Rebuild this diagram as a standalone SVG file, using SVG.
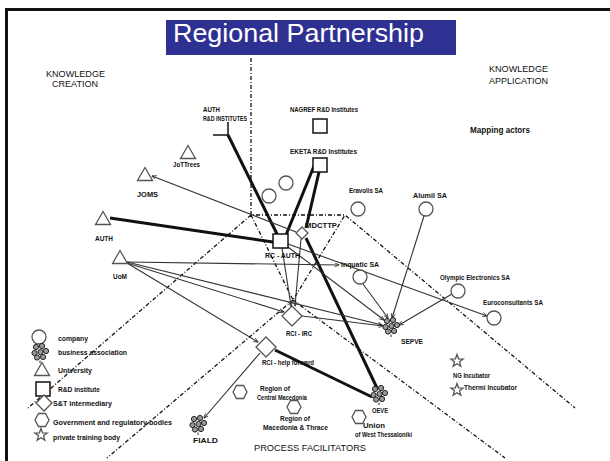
<svg xmlns="http://www.w3.org/2000/svg" xmlns:xlink="http://www.w3.org/1999/xlink" width="610" height="461" viewBox="0 0 610 461">
<style>
.lb{font-family:"Liberation Sans",Arial,sans-serif;font-weight:bold;font-size:6.5px;fill:#111}
.hd{font-family:"Liberation Sans",Arial,sans-serif;font-size:9px;fill:#111}
.lg{font-family:"Liberation Sans",Arial,sans-serif;font-weight:bold;font-size:7px;fill:#111}
.dash{stroke:#111;stroke-width:1.3;fill:none;stroke-dasharray:4 2 1 2}
.thin{stroke:#333;stroke-width:1.1;fill:none;marker-end:url(#arr)}
.thick{stroke:#111;stroke-width:3;fill:none}
.shp{fill:#fff;stroke:#555;stroke-width:1.3}
.sqr{fill:#fff;stroke:#111;stroke-width:1.5}
</style>
<defs>
<marker id="arr" viewBox="0 0 10 10" refX="9" refY="5" markerWidth="5" markerHeight="5" orient="auto" markerUnits="userSpaceOnUse">
<path d="M0 1L10 5L0 9" fill="none" stroke="#333" stroke-width="1.6"/>
</marker>
<path id="tri" d="M0 -6.5L-7.5 6.5H7.5Z"/>
<circle id="circ" r="7"/>
<path id="dia" d="M0 -10L10 0L0 10L-10 0Z"/>
<path id="hex" d="M-7 0L-3.5 -6.5H3.5L7 0L3.5 6.5H-3.5Z"/>
<path id="star" d="M0,-6.5 L1.59,-2.18 L6.18,-2.01 L2.57,0.83 L3.82,5.26 L0,2.7 L-3.82,5.26 L-2.57,0.83 L-6.18,-2.01 L-1.59,-2.18 Z"/>
<g id="ba" fill="#9a9a9a" stroke="#222" stroke-width="1">
<circle cx="-4" cy="-5" r="2.6"/><circle cx="2" cy="-6" r="2.6"/><circle cx="6" cy="-1" r="2.6"/><circle cx="-5.5" cy="1" r="2.6"/><circle cx="0.5" cy="0" r="2.6"/><circle cx="3" cy="5" r="2.6"/><circle cx="-3" cy="5.5" r="2.6"/><path d="M0 8.5v2.5" fill="none"/>
</g>
</defs>
<rect width="610" height="461" fill="#fff"/>
<g id="frame">
<path d="M5 9.5H610M6.5 8V461" stroke="#111" stroke-width="3" fill="none"/>
</g>
<g id="title">
<rect x="166" y="20" width="290" height="35" fill="#2e3192"/>
<text x="173" y="42" font-family="Liberation Sans,Arial,sans-serif" font-size="25" fill="#fff" textLength="251" lengthAdjust="spacingAndGlyphs">Regional Partnership</text>
</g>
<g id="connectors">
<path class="dash" d="M251 58V215H345L575 408M251 215L28 408M251 215L293 300L345 215M293 300L107 458M293 300L505 458"/>
<path d="M228 122V135H213" stroke="#111" stroke-width="1.5" fill="none"/>
<path class="thick" d="M110 218L273 242"/>
<path class="thick" d="M228 135L277 234"/>
<path class="thick" d="M314 166L286 235"/>
<path class="thick" d="M319 172L306 228"/>
<path class="thick" d="M306 238L377 388"/>
<path class="thick" d="M275 350L372 397"/>
<path class="thin" d="M296 232L152 176"/>
<path class="thin" d="M127 262L339 265"/>
<path class="thin" d="M127 262L382 325"/>
<path class="thin" d="M127 263L284 312"/>
<path class="thin" d="M127 263L258 342"/>
<path class="thin" d="M260 353L204 418"/>
<path class="thin" d="M288 244L487 316"/>
<path class="thin" d="M288 247L384 320"/>
<path class="thin" d="M282 248L291 306"/>
<path class="thin" d="M301 239L295 306"/>
<path class="thin" d="M302 316L383 326"/>
<path class="thin" d="M424 216L392 318"/>
<path class="thin" d="M452 294L399 325"/>
<path class="thin" d="M363 284L388 318"/>
</g>
<g id="headings">
<text class="hd" x="46" y="77" textLength="59" lengthAdjust="spacingAndGlyphs">KNOWLEDGE</text>
<text class="hd" x="52" y="87" textLength="46" lengthAdjust="spacingAndGlyphs">CREATION</text>
<text class="hd" x="489" y="72" textLength="59" lengthAdjust="spacingAndGlyphs">KNOWLEDGE</text>
<text class="hd" x="489" y="84" textLength="59" lengthAdjust="spacingAndGlyphs">APPLICATION</text>
<text class="hd" x="470" y="133" font-weight="bold" textLength="60" lengthAdjust="spacingAndGlyphs">Mapping actors</text>
<text class="hd" x="254" y="451" font-size="10" textLength="112" lengthAdjust="spacingAndGlyphs">PROCESS FACILITATORS</text>
</g>
<g id="auth-rd">
<text class="lb" x="203" y="112" textLength="17" lengthAdjust="spacingAndGlyphs">AUTH</text>
<text class="lb" x="203" y="121" textLength="44" lengthAdjust="spacingAndGlyphs">R&amp;D INSTITUTES</text>
</g>
<g id="nagref">
<rect class="sqr" x="313" y="119" width="14" height="14"/>
<text class="lb" x="290" y="112" textLength="68" lengthAdjust="spacingAndGlyphs">NAGREF R&amp;D Institutes</text>
</g>
<g id="eketa">
<rect class="sqr" x="313" y="158" width="14" height="14"/>
<text class="lb" x="290" y="154" textLength="67" lengthAdjust="spacingAndGlyphs">EKETA R&amp;D Institutes</text>
</g>
<g id="rc-auth">
<rect class="sqr" x="273" y="234" width="15" height="14"/>
<text class="lb" x="265" y="258" textLength="35" lengthAdjust="spacingAndGlyphs">RC - AUTH</text>
</g>
<g id="jottrees">
<use href="#tri" x="188" y="152" class="shp"/>
<text class="lb" x="173" y="167" textLength="27" lengthAdjust="spacingAndGlyphs">JoTTrees</text>
</g>
<g id="joms">
<use href="#tri" x="145" y="174" class="shp"/>
<text class="lb" x="137" y="197" textLength="21" lengthAdjust="spacingAndGlyphs">JOMS</text>
</g>
<g id="auth">
<use href="#tri" x="103" y="218" class="shp"/>
<text class="lb" x="95" y="241" textLength="18" lengthAdjust="spacingAndGlyphs">AUTH</text>
</g>
<g id="uom">
<use href="#tri" x="120" y="257" class="shp"/>
<text class="lb" x="113" y="279" textLength="14" lengthAdjust="spacingAndGlyphs">UoM</text>
</g>
<g id="companies-a">
<use href="#circ" x="286" y="183" class="shp"/>
<use href="#circ" x="269" y="196" class="shp"/>
</g>
<g id="mdcttp">
<path class="shp" d="M302 227L308 233L302 239L296 233Z"/>
<text class="lb" x="305" y="228" textLength="32" lengthAdjust="spacingAndGlyphs">MDCTTP</text>
</g>
<g id="eravolis">
<use href="#circ" x="358" y="209" class="shp"/>
<text class="lb" x="349" y="193" textLength="34" lengthAdjust="spacingAndGlyphs">Eravolis SA</text>
</g>
<g id="alumil">
<use href="#circ" x="426" y="209" class="shp"/>
<text class="lb" x="413" y="198" textLength="34" lengthAdjust="spacingAndGlyphs">Alumil SA</text>
</g>
<g id="inquatic">
<use href="#circ" x="360" y="277" class="shp"/>
<text class="lb" x="341" y="267" textLength="38" lengthAdjust="spacingAndGlyphs">Inquatic SA</text>
</g>
<g id="olympic">
<use href="#circ" x="458" y="291" class="shp"/>
<text class="lb" x="440" y="280" textLength="70" lengthAdjust="spacingAndGlyphs">Olympic Electronics SA</text>
</g>
<g id="euroconsultants">
<use href="#circ" x="494" y="318" class="shp"/>
<text class="lb" x="483" y="305" textLength="60" lengthAdjust="spacingAndGlyphs">Euroconsultants SA</text>
</g>
<g id="sepve">
<use href="#ba" x="391" y="326"/>
<text class="lb" x="401" y="344" textLength="22" lengthAdjust="spacingAndGlyphs">SEPVE</text>
</g>
<g id="rci-irc">
<use href="#dia" x="292" y="316" class="shp"/>
<text class="lb" x="286" y="336" textLength="26" lengthAdjust="spacingAndGlyphs">RCI - IRC</text>
</g>
<g id="rci-help">
<use href="#dia" x="266" y="347" class="shp"/>
<text class="lb" x="262" y="365" textLength="52" lengthAdjust="spacingAndGlyphs">RCI - help forward</text>
</g>
<g id="oeve">
<use href="#ba" x="379" y="394"/>
<text class="lb" x="372" y="413" textLength="16" lengthAdjust="spacingAndGlyphs">OEVE</text>
</g>
<g id="fiald">
<use href="#ba" x="198" y="424"/>
<text class="lb" x="193" y="443" textLength="25" lengthAdjust="spacingAndGlyphs">FIALD</text>
</g>
<g id="region-cm">
<use href="#hex" x="240" y="392" class="shp"/>
<text class="lb" x="260" y="391" textLength="30" lengthAdjust="spacingAndGlyphs">Region of</text>
<text class="lb" x="257" y="400" textLength="50" lengthAdjust="spacingAndGlyphs">Central Macedonia</text>
</g>
<g id="region-mt">
<use href="#hex" x="294" y="407" class="shp"/>
<text class="lb" x="280" y="421" textLength="30" lengthAdjust="spacingAndGlyphs">Region of</text>
<text class="lb" x="263" y="430" textLength="65" lengthAdjust="spacingAndGlyphs">Macedonia &amp; Thrace</text>
</g>
<g id="union-wt">
<use href="#hex" x="359" y="417" class="shp"/>
<text class="lb" x="363" y="428" textLength="22" lengthAdjust="spacingAndGlyphs">Union</text>
<text class="lb" x="355" y="437" textLength="57" lengthAdjust="spacingAndGlyphs">of West Thessaloniki</text>
</g>
<g id="ng-incubator">
<use href="#star" x="457" y="361" class="shp"/>
<text class="lb" x="453" y="378" textLength="37" lengthAdjust="spacingAndGlyphs">NG Incubator</text>
</g>
<g id="thermi-incubator">
<use href="#star" x="457" y="390" class="shp"/>
<text class="lb" x="464" y="390" textLength="53" lengthAdjust="spacingAndGlyphs">Thermi Incubator</text>
</g>
<g id="legend">
<use href="#circ" x="39" y="337" class="shp"/>
<text class="lg" x="58" y="341" textLength="30" lengthAdjust="spacingAndGlyphs">company</text>
<use href="#ba" x="40" y="352"/>
<text class="lg" x="58" y="355" textLength="69" lengthAdjust="spacingAndGlyphs">business association</text>
<use href="#tri" x="42" y="369" class="shp"/>
<text class="lg" x="58" y="373" textLength="34" lengthAdjust="spacingAndGlyphs">University</text>
<rect class="sqr" x="36" y="382" width="14" height="14"/>
<text class="lg" x="58" y="392" textLength="42" lengthAdjust="spacingAndGlyphs">R&amp;D institute</text>
<path class="shp" d="M44 395L52 403L44 411L36 403Z"/>
<text class="lg" x="53" y="406" textLength="59" lengthAdjust="spacingAndGlyphs">S&amp;T intermediary</text>
<use href="#hex" x="42" y="420" class="shp"/>
<text class="lg" x="53" y="425" textLength="119" lengthAdjust="spacingAndGlyphs">Government and regulatory bodies</text>
<use href="#star" x="41" y="435" class="shp"/>
<text class="lg" x="53" y="440" textLength="67" lengthAdjust="spacingAndGlyphs">private training body</text>
</g>
</svg>
